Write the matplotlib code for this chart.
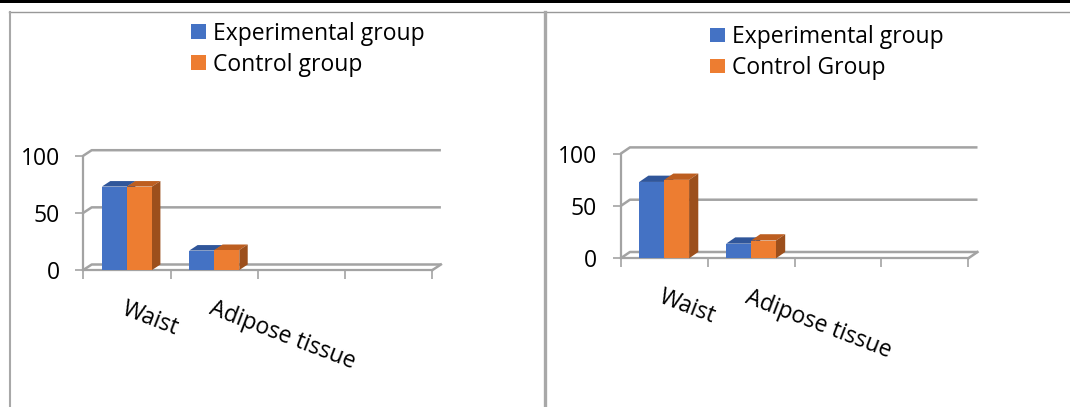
import numpy as np
import matplotlib
matplotlib.use("Agg")
import matplotlib.pyplot as plt
from matplotlib.patches import Polygon, Rectangle
from matplotlib.lines import Line2D

plt.rcParams["font.family"] = ["Open Sans", "DejaVu Sans"]

# ---- data -------------------------------------------------------------
categories = ["Waist", "Adipose tissue", "", ""]
y_ticks = [0, 50, 100]

left_names = ["Experimental group", "Control group"]
left_experimental = [73, 17]
left_control = [73, 17.5]

right_names = ["Experimental group", "Control Group"]
right_experimental = [73, 14]
right_control = [75, 17]

# ---- style ------------------------------------------------------------
W, H, DPI = 1070, 407, 100
BLUE, BLUE_TOP, BLUE_SIDE = "#4472C4", "#30569A", "#2C4E8A"
ORANGE, ORANGE_TOP, ORANGE_SIDE = "#ED7D31", "#BD5E20", "#9C4F1C"
GRID = "#A3A3A3"
FS = 16.5
BAR_W = 0.287

fig = plt.figure(figsize=(W / DPI, H / DPI), dpi=DPI)
fig.patch.set_facecolor("white")


def panel(x0, x1, y100, y0, depth, exp, ctrl, names, legend_xy):
    """Pseudo-3D clustered column chart; plot front plane spans pixels
    x0..x1 horizontally and y100..y0 vertically (from the top)."""
    ax = fig.add_axes([x0 / W, 1 - y0 / H, (x1 - x0) / W, (y0 - y100) / H])
    ncat = len(categories)
    ax.set_xlim(0, ncat)
    ax.set_ylim(0, 100)
    ax.patch.set_visible(False)

    # depth offset expressed in data units
    ddx = depth[0] / ((x1 - x0) / ncat)
    ddy = depth[1] / ((y0 - y100) / 100)

    # back wall gridlines with their diagonal returns to the front axis
    for y in y_ticks:
        ax.plot([0, ddx, ncat + ddx], [y, y + ddy, y + ddy], color=GRID,
                lw=1.8, clip_on=False, zorder=1, solid_capstyle="butt")
    ax.plot([ncat, ncat + ddx], [0, ddy], color=GRID, lw=1.8,
            clip_on=False, zorder=1)

    # bars: front face, top face, right side face
    xs = np.arange(len(exp)) + 0.5
    handles = []
    for off, vals, face, top, side in [(-BAR_W / 2, exp, BLUE, BLUE_TOP, BLUE_SIDE),
                                       (BAR_W / 2, ctrl, ORANGE, ORANGE_TOP, ORANGE_SIDE)]:
        bars = ax.bar(xs + off, vals, BAR_W, color=face, zorder=3,
                      clip_on=False, linewidth=0)
        handles.append(bars)
        for r in bars:
            xl, xr, h = r.get_x(), r.get_x() + r.get_width(), r.get_height()
            ax.add_patch(Polygon([(xl, h), (xr, h), (xr + ddx, h + ddy), (xl + ddx, h + ddy)],
                                 closed=True, facecolor=top, lw=0, zorder=3, clip_on=False))
            ax.add_patch(Polygon([(xr, 0), (xr + ddx, ddy), (xr + ddx, h + ddy), (xr, h)],
                                 closed=True, facecolor=side, lw=0, zorder=3, clip_on=False))

    # front axes
    for s in ("top", "right"):
        ax.spines[s].set_visible(False)
    for s in ("left", "bottom"):
        ax.spines[s].set_color(GRID)
        ax.spines[s].set_linewidth(1.6)
        ax.spines[s].set_zorder(2)

    ax.set_yticks(y_ticks)
    ax.set_yticklabels([str(v) for v in y_ticks])
    ax.tick_params(axis="y", length=5.5, width=1.2, color=GRID, pad=11.5,
                   labelsize=FS, labelcolor="black")

    ax.set_xticks(np.arange(ncat + 1))
    ax.set_xticklabels([""] * (ncat + 1))
    ax.tick_params(axis="x", which="major", length=6.5, width=1.2, color=GRID)
    ax.set_xticks(np.arange(ncat) + 0.5, minor=True)
    ax.set_xticklabels(categories, minor=True)
    ax.tick_params(axis="x", which="minor", length=0, pad=19.5, labelsize=FS,
                   labelcolor="black")
    for lab in ax.get_xticklabels(minor=True):
        lab.set_rotation(-21)
        lab.set_horizontalalignment("left")
        lab.set_verticalalignment("top")
        lab.set_rotation_mode("anchor")

    ax.legend(handles, names, loc="upper left",
              bbox_to_anchor=(legend_xy[0] / W, 1 - legend_xy[1] / H),
              bbox_transform=fig.transFigure, frameon=False, fontsize=FS,
              handlelength=0.66, handleheight=0.62, handletextpad=0.28,
              labelspacing=0.31, borderpad=0, borderaxespad=0)
    return ax


panel(83.3, 432.5, 155.7, 270.0, (8.4, 5.5), left_experimental, left_control,
      left_names, (191, 21.5))
panel(620.7, 968.3, 153.7, 258.3, (9.2, 6.3), right_experimental, right_control,
      right_names, (710, 25))

# page frame around the two charts
fig.add_artist(Rectangle((0, 1 - 3.3 / H), 1, 3.3 / H, transform=fig.transFigure,
                         facecolor="black", edgecolor="none"))
fig.add_artist(Line2D([9 / W, 1], [1 - 12.2 / H] * 2, color="#989898", lw=1.0))
fig.add_artist(Line2D([10 / W] * 2, [0, 1 - 12.2 / H], color="#A8A8A8", lw=1.5))
fig.add_artist(Line2D([545 / W] * 2, [0, 1 - 12.2 / H], color="#A8A8A8", lw=2.4))

fig.savefig("out.png", dpi=DPI)
